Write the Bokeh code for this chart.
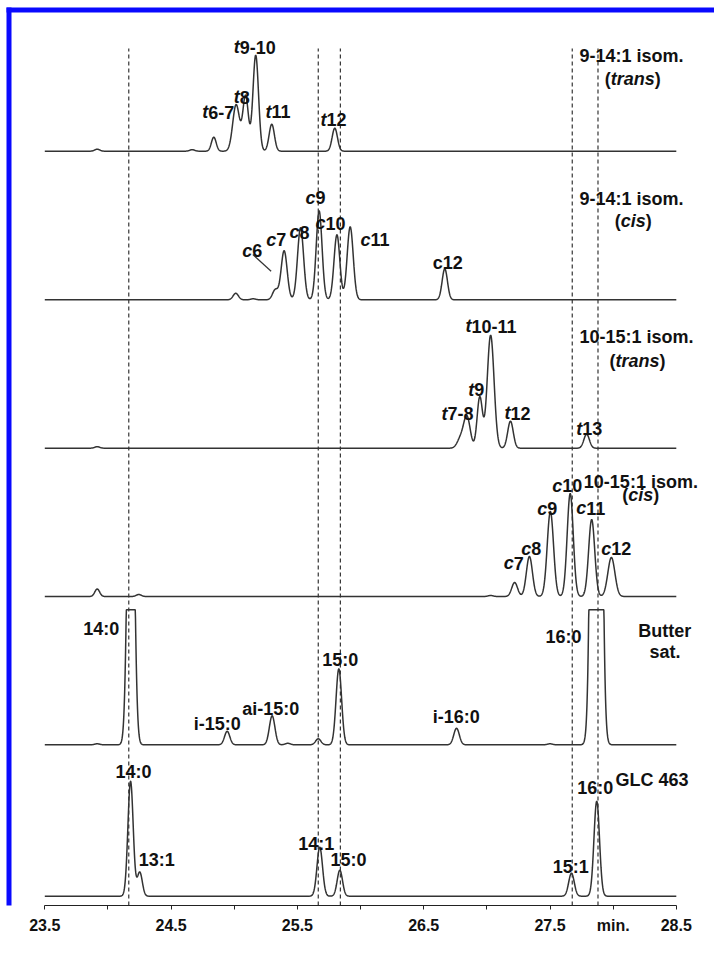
import numpy as np
from bokeh.plotting import figure
from bokeh.models import Range1d, LinearAxis, FixedTicker, BoxAnnotation, ColumnDataSource
from bokeh.core.properties import value
from bokeh.embed import file_html
from bokeh.resources import INLINE

# ---------------- data ----------------
# retention times (min), peak heights (signal units), peak widths (sigma, min)
t1_rt = [23.915, 24.667, 24.838, 25.015, 25.090, 25.170, 25.297, 25.796]
t1_h = [2, 1.5, 14, 46.5, 55, 96, 27, 23]
t1_sd = [0.02, 0.02, 0.019, 0.027, 0.022, 0.022, 0.021, 0.021]

t2_rt = [25.012, 25.150, 25.325, 25.395, 25.525, 25.672, 25.813, 25.918, 26.667]
t2_h = [6.5, 1, 10, 49, 72, 89, 65, 73, 31]
t2_sd = [0.021, 0.02, 0.022, 0.024, 0.024, 0.023, 0.023, 0.024, 0.021]

t3_rt = [23.915, 26.790, 26.842, 26.944, 27.030, 27.187, 27.790]
t3_h = [1.5, 9, 31.5, 51, 113, 27, 14]
t3_sd = [0.02, 0.026, 0.026, 0.021, 0.027, 0.022, 0.022]

t4_rt = [23.915, 24.244, 27.030, 27.220, 27.337, 27.503, 27.660, 27.830, 27.986]
t4_h = [7.5, 2, 1, 14, 40, 85, 103, 77, 39]
t4_sd = [0.019, 0.02, 0.02, 0.023, 0.024, 0.025, 0.024, 0.024, 0.028]

t5_rt = [23.915, 24.181, 24.944, 25.300, 25.424, 25.665, 25.828, 26.760, 27.500, 27.867]
t5_h = [1, 415, 13.5, 29, 1.5, 6, 76, 16.5, 1, 1350]
t5_sd = [0.02, 0.024, 0.021, 0.022, 0.02, 0.021, 0.022, 0.022, 0.02, 0.028]
t5_clip = 135

t6_rt = [24.179, 24.252, 25.677, 25.836, 27.670, 27.870]
t6_h = [115, 24, 49, 26, 23, 95]
t6_sd = [0.021, 0.02, 0.022, 0.021, 0.022, 0.022]

dashed_x = [24.165, 25.665, 25.84, 27.676, 27.88]

tick_major = [23.5, 24.5, 25.5, 26.5, 27.5, 28.0, 28.5]
tick_minor = [24.0, 25.0, 26.0, 27.0]
tick_overrides = {28.0: "min."}

# peak labels: markup (*...* = italic), x (min), y (signal units, text baseline)
labels = [
    ("*t*9-10", 24.996, 858.3), ("*t*8", 24.996, 808.3), ("*t*6-7", 24.746, 793.3),
    ("*t*11", 25.247, 794.0), ("*t*12", 25.683, 785.7),
    ("9-14:1 isom.", 27.734, 850.0), ("(*trans*)", 27.934, 827.0),
    ("*c*9", 25.564, 707.7), ("*c*8", 25.437, 673.3), ("*c*10", 25.643, 682.3),
    ("*c*7", 25.253, 665.7), ("*c*6", 25.063, 655.0), ("*c*11", 26.000, 665.7),
    ("c12", 26.572, 642.3),
    ("9-14:1 isom.", 27.734, 706.7), ("(*cis*)", 28.013, 684.3),
    ("*t*10-11", 26.831, 579.3), ("10-15:1 isom.", 27.734, 569.0), ("(*trans*)", 27.971, 545.0),
    ("*t*9", 26.852, 515.7), ("*t*7-8", 26.641, 491.7), ("*t*12", 27.140, 492.3),
    ("*t*13", 27.707, 476.7),
    ("10-15:1 isom.", 27.768, 424.0), ("(*cis*)", 28.072, 410.7),
    ("*c*10", 27.517, 420.0), ("*c*9", 27.399, 396.7), ("*c*11", 27.707, 397.3),
    ("*c*8", 27.272, 356.7), ("*c*12", 27.905, 356.7), ("*c*7", 27.134, 342.3),
    ("14:0", 23.804, 276.7), ("i-15:0", 24.680, 181.7), ("ai-15:0", 25.063, 196.7),
    ("15:0", 25.696, 245.7), ("16:0", 27.464, 269.0), ("Butter", 28.198, 274.3),
    ("sat.", 28.288, 253.3), ("i-16:0", 26.572, 189.0),
    ("14:0", 24.060, 133.3), ("13:1", 24.244, 45.7), ("14:1", 25.506, 61.7),
    ("15:0", 25.762, 45.7), ("16:0", 27.715, 117.7), ("GLC 463", 28.019, 125.7),
    ("15:1", 27.522, 38.3),
]

# ---------------- layout ----------------
W, H = 714, 956
FRAME_H = 905            # frame bottom (= x axis) at canvas y 905
BOTTOM = H - FRAME_H
PX_PER_MIN = 126.3
LEFT_PAD_PX = 44.3       # canvas x of 23.5
x0 = 23.5 - LEFT_PAD_PX / PX_PER_MIN
x1 = x0 + W / PX_PER_MIN
offsets = [754.3, 605.7, 457.3, 309.0, 160.7, 9.3]

FONT = "Liberation Sans"
LBL_SIZE = 18
INK = "#111111"
TRACE = "#333333"
BLUE = "#0a0aff"

p = figure(width=W, height=H, x_range=Range1d(x0, x1), y_range=Range1d(0, FRAME_H),
           x_axis_type=None, y_axis_type=None, toolbar_location=None,
           output_backend="svg", title=None,
           min_border_left=0, min_border_right=0, min_border_top=0, min_border_bottom=BOTTOM)
p.outline_line_color = None
p.background_fill_color = "white"
p.border_fill_color = "white"

xs = np.arange(23.5, 28.5 + 1e-9, 0.002)


def trace(rt, h, sd, clip=None):
    y = np.zeros_like(xs)
    for r, a, s in zip(rt, h, sd):
        y += a * np.exp(-((xs - r) ** 2) / (2 * s * s))
    if clip is not None:
        y = np.minimum(y, clip)
    return y


traces = [
    trace(t1_rt, t1_h, t1_sd),
    trace(t2_rt, t2_h, t2_sd),
    trace(t3_rt, t3_h, t3_sd),
    trace(t4_rt, t4_h, t4_sd),
    trace(t5_rt, t5_h, t5_sd, t5_clip),
    trace(t6_rt, t6_h, t6_sd),
]

# dashed reference lines
p.segment(x0=dashed_x, y0=[0] * len(dashed_x), x1=dashed_x, y1=[857] * len(dashed_x),
          line_color="#222222", line_width=1.1, line_dash="4 3")

for y, off in zip(traces, offsets):
    p.line(xs, y + off, line_color=TRACE, line_width=1.5)

# c6 leader line
p.segment(x0=[25.147], y0=[651], x1=[25.292], y1=[634.3], line_color=TRACE, line_width=1.2)

# labels, split into upright / italic segments
W_EM = {str(d): 0.556 for d in range(10)}
W_EM.update({'-': .333, ':': .333, ' ': .278, '.': .278, '(': .333, ')': .333,
             'a': .556, 'c': .556, 'e': .556, 'i': .278, 'm': .889, 'n': .611, 'o': .611,
             'r': .389, 's': .556, 't': .333, 'u': .611, 'B': .722, 'C': .722, 'G': .778,
             'L': .611})

seg = {False: dict(x=[], y=[], text=[], xo=[]), True: dict(x=[], y=[], text=[], xo=[])}
for markup, lx, ly in labels:
    parts = markup.split("*")
    off = 0.0
    for i, part in enumerate(parts):
        if not part:
            continue
        it = (i % 2 == 1)
        d = seg[it]
        d["x"].append(lx)
        d["y"].append(ly)
        d["text"].append(part)
        d["xo"].append(off)
        off += sum(W_EM.get(ch, 0.556) for ch in part) * LBL_SIZE

for it, d in seg.items():
    src = ColumnDataSource(d)
    p.text(x="x", y="y", text="text", x_offset="xo", source=src,
           text_font=value(FONT), text_font_style="bold italic" if it else "bold",
           text_font_size=f"{LBL_SIZE}px", text_color=INK,
           text_align="left", text_baseline="alphabetic")

# x axis
ax = LinearAxis(ticker=FixedTicker(ticks=tick_major, minor_ticks=tick_minor),
                bounds=(23.5, 28.5))
ax.major_label_overrides = tick_overrides
ax.axis_line_color = "#222222"
ax.axis_line_width = 1.2
ax.major_tick_line_color = "#222222"
ax.minor_tick_line_color = "#222222"
ax.major_tick_in = 0
ax.major_tick_out = 4
ax.minor_tick_in = 0
ax.minor_tick_out = 4
ax.major_label_standoff = 7
ax.major_label_text_font = FONT
ax.major_label_text_font_style = "bold"
ax.major_label_text_font_size = "16px"
ax.major_label_text_color = INK
p.add_layout(ax, "below")

# blue frame edges (top and left, as in the cropped reference)
p.add_layout(BoxAnnotation(left=6, right=11, top=7, bottom=H,
                           left_units="canvas", right_units="canvas",
                           top_units="canvas", bottom_units="canvas",
                           fill_color=BLUE, fill_alpha=1, line_alpha=0, level="overlay"))
p.add_layout(BoxAnnotation(left=6, right=W, top=7, bottom=12,
                           left_units="canvas", right_units="canvas",
                           top_units="canvas", bottom_units="canvas",
                           fill_color=BLUE, fill_alpha=1, line_alpha=0, level="overlay"))

open("out.html", "w").write(file_html(p, INLINE))
